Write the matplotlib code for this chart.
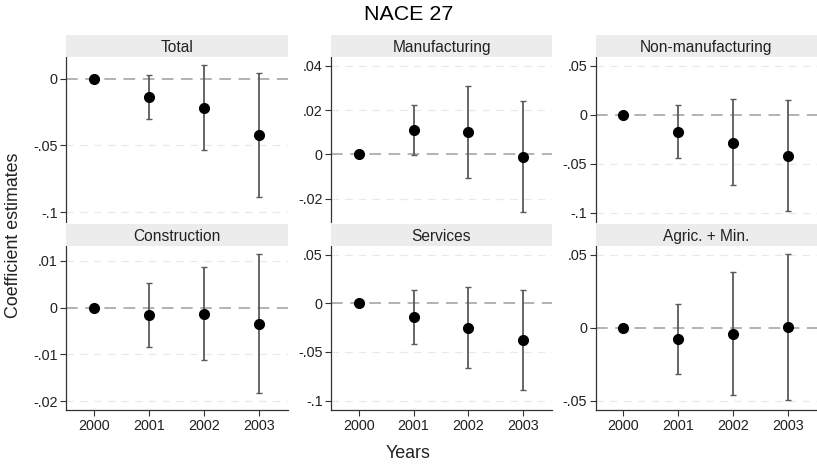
import matplotlib
matplotlib.use("Agg")
import matplotlib.pyplot as plt
from matplotlib.ticker import FuncFormatter

plt.rcParams['font.family'] = ['Liberation Sans', 'DejaVu Sans']

years = [2000, 2001, 2002, 2003]
panels = ["Total", "Manufacturing", "Non-manufacturing",
          "Construction", "Services", "Agric. + Min."]

total_est = [0.0, -0.0137, -0.0219, -0.0420]
total_lo = [0.0, -0.0300, -0.0535, -0.0888]
total_hi = [0.0, 0.0030, 0.0104, 0.0047]

manuf_est = [0.0, 0.0111, 0.0100, -0.0010]
manuf_lo = [0.0, -0.0003, -0.0107, -0.0258]
manuf_hi = [0.0, 0.0222, 0.0307, 0.0242]

nonman_est = [0.0, -0.0173, -0.0286, -0.0421]
nonman_lo = [0.0, -0.0442, -0.0720, -0.0986]
nonman_hi = [0.0, 0.0096, 0.0160, 0.0147]

constr_est = [0.0, -0.0016, -0.0013, -0.0035]
constr_lo = [0.0, -0.0085, -0.0113, -0.0183]
constr_hi = [0.0, 0.0053, 0.0088, 0.0114]

serv_est = [0.0, -0.0140, -0.0252, -0.0381]
serv_lo = [0.0, -0.0415, -0.0660, -0.0888]
serv_hi = [0.0, 0.0136, 0.0170, 0.0133]

agr_est = [0.0, -0.0075, -0.0041, 0.0005]
agr_lo = [0.0, -0.0314, -0.0464, -0.0496]
agr_hi = [0.0, 0.0164, 0.0384, 0.0505]

yticks = [
    [0, -0.05, -0.1],
    [0.04, 0.02, 0, -0.02],
    [0.05, 0, -0.05, -0.1],
    [0.01, 0, -0.01, -0.02],
    [0.05, 0, -0.05, -0.1],
    [0.05, 0, -0.05],
]
ylims = [
    (-0.1075, 0.0164),
    (-0.0304, 0.0439),
    (-0.1095, 0.0589),
    (-0.0219, 0.0132),
    (-0.1096, 0.0588),
    (-0.0564, 0.0561),
]

data = [
    (total_est, total_lo, total_hi),
    (manuf_est, manuf_lo, manuf_hi),
    (nonman_est, nonman_lo, nonman_hi),
    (constr_est, constr_lo, constr_hi),
    (serv_est, serv_lo, serv_hi),
    (agr_est, agr_lo, agr_hi),
]


def stata_fmt(v, pos=None):
    if abs(v) < 1e-12:
        return "0"
    s = ("%g" % round(v, 6))
    s = s.replace("0.", ".")
    return s


W, H = 817, 465
fig = plt.figure(figsize=(W / 100, H / 100), dpi=100)

col_left = [66, 331, 595.5]
col_width = [222, 221, 221.5]
row_top = [57, 246]
row_bot = [222, 410]
strip_h = 22

for i, name in enumerate(panels):
    r, c = divmod(i, 3)
    l = col_left[c] / W
    w = col_width[c] / W
    b = 1 - row_bot[r] / H
    h = (row_bot[r] - row_top[r]) / H
    ax = fig.add_axes([l, b, w, h])
    est, lo, hi = data[i]
    ax.set_xlim(1999.49, 2003.53)
    ax.set_ylim(*ylims[i])
    ax.set_yticks(yticks[i])
    ax.yaxis.set_major_formatter(FuncFormatter(stata_fmt))
    for t in yticks[i]:
        if t != 0:
            ax.axhline(t, color='#e9e9e9', lw=0.9, dashes=(6, 5), zorder=0)
    ax.axhline(0, color='#a6a6a6', lw=1.2, dashes=(7, 4.5), zorder=1)
    yerr = [[e - a for e, a in zip(est, lo)], [b_ - e for e, b_ in zip(est, hi)]]
    ax.errorbar(years, est, yerr=yerr, fmt='none', ecolor='#5a5a5a',
                elinewidth=1.3, capsize=2.2, capthick=1.0, zorder=2)
    ax.plot(years, est, 'o', color='black', markersize=7, zorder=3)
    for s in ['top', 'right']:
        ax.spines[s].set_visible(False)
    ax.spines['left'].set_color('#333333')
    ax.spines['left'].set_linewidth(0.9)
    ax.tick_params(axis='y', direction='out', length=4, width=0.8,
                   color='#333333', labelsize=10.4, labelcolor='#222222', pad=2)
    if r == 0:
        ax.spines['bottom'].set_visible(False)
        ax.set_xticks([])
    else:
        ax.spines['bottom'].set_color('#333333')
        ax.spines['bottom'].set_linewidth(0.9)
        ax.set_xticks(years)
        ax.set_xticklabels([str(y) for y in years])
        ax.tick_params(axis='x', direction='out', length=4, width=0.8,
                       color='#333333', labelsize=10.4, labelcolor='#222222', pad=2.5)
    ax.set_facecolor('white')
    # strip
    sax = fig.add_axes([l, 1 - row_top[r] / H, w, strip_h / H])
    sax.set_facecolor('#ececec')
    for s in sax.spines.values():
        s.set_visible(False)
    sax.set_xticks([])
    sax.set_yticks([])
    sax.text(0.5, 0.45, name, ha='center', va='center', fontsize=11.2,
             color='#222222', transform=sax.transAxes)

fig.text(0.5, 1 - 15 / H, "NACE 27", ha='center', va='center', fontsize=15.4,
         color='black')
fig.text(0.5, 1 - 453 / H, "Years", ha='center', va='center', fontsize=12.9,
         color='#222222')
fig.text(14 / W, 1 - 235 / H, "Coefficient estimates", ha='center', va='center',
         rotation=90, fontsize=12.9, color='#222222')

fig.savefig("out.png", dpi=100)
